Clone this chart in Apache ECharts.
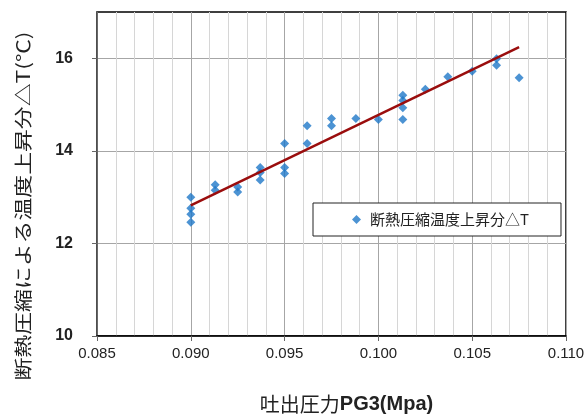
<!DOCTYPE html>
<html>
<head>
<meta charset="utf-8">
<script src="https://cdn.jsdelivr.net/npm/echarts@6/dist/echarts.min.js"></script>
<style>
  html, body { margin: 0; padding: 0; background: #fff; }
  #chart { width: 585px; height: 414px; }
</style>
</head>
<body>
<div id="chart"></div>
<script>
// Discharge pressure PG3 (MPa) and measured temperature rise from adiabatic compression (°C)
const pressure = [
  0.0900, 0.0900, 0.0900, 0.0900,
  0.0913, 0.0913,
  0.0925, 0.0925,
  0.0937, 0.0937, 0.0937,
  0.0950, 0.0950, 0.0950,
  0.0962, 0.0962,
  0.0975, 0.0975,
  0.0988,
  0.1000,
  0.1013, 0.1013, 0.1013, 0.1013,
  0.1025,
  0.1037,
  0.1050,
  0.1063, 0.1063,
  0.1075
];
const deltaT = [
  13.00, 12.76, 12.63, 12.46,
  13.27, 13.15,
  13.22, 13.11,
  13.64, 13.53, 13.37,
  14.16, 13.64, 13.51,
  14.54, 14.16,
  14.70, 14.54,
  14.70,
  14.68,
  15.20, 15.09, 14.93, 14.68,
  15.33,
  15.60,
  15.72,
  15.99, 15.85,
  15.58
];

// Linear trend line end points
const trendX = [0.0900, 0.1075];
const trendY = [12.82, 16.24];

// Axis tick values
const xTicks = [0.085, 0.090, 0.095, 0.100, 0.105, 0.110];
const yTicks = [10, 12, 14, 16];

const seriesName = '断熱圧縮温度上昇分△T';
const xTitle = '吐出圧力';
const xTitleUnit = 'PG3(Mpa)';
const yTitle = '断熱圧縮による温度上昇分△T(℃)';

const scatterData = pressure.map((p, i) => [p, deltaT[i]]);
const trendData = trendX.map((p, i) => [p, trendY[i]]);

const chart = echarts.init(document.getElementById('chart'), null, { renderer: 'canvas' });

chart.setOption({
  animation: false,
  backgroundColor: '#ffffff',
  textStyle: { fontFamily: '"Liberation Sans", "Noto Sans CJK JP", sans-serif' },
  grid: {
    left: 97, right: 19, top: 12, bottom: 78,
    outerBoundsMode: 'none',
    show: true, borderColor: '#000', borderWidth: 1.5, backgroundColor: 'transparent'
  },
  // vertical axis title, stretched along its reading direction
  graphic: [{
    type: 'text',
    x: 23, y: 206,
    rotation: Math.PI / 2,
    scaleX: 1.27,
    style: {
      text: yTitle,
      fontSize: 18,
      fontFamily: '"Noto Sans CJK JP", sans-serif',
      fill: '#222',
      align: 'center',
      verticalAlign: 'middle'
    }
  }],
  legend: {
    data: [seriesName],
    left: 313, top: 203,
    padding: [9, 32, 9, 39],
    backgroundColor: '#fff',
    borderColor: '#222', borderWidth: 1,
    icon: 'diamond',
    itemWidth: 9, itemHeight: 9, itemGap: 0,
    textStyle: { fontSize: 15, color: '#222', fontFamily: '"Noto Sans CJK JP", sans-serif', padding: [0, 0, 0, 4] }
  },
  xAxis: {
    type: 'value',
    min: 0.085, max: 0.110, interval: 0.005,
    name: '{a|' + xTitle + '}{b|' + xTitleUnit + '}',
    nameLocation: 'middle', nameGap: 58,
    nameTextStyle: {
      padding: [0, 0, 0, 30],
      rich: {
        a: { fontSize: 20, color: '#222', fontFamily: '"Noto Sans CJK JP", sans-serif' },
        b: { fontSize: 20, color: '#222', fontWeight: 'bold', fontFamily: '"Liberation Sans", sans-serif' }
      }
    },
    axisLine: { show: true, lineStyle: { color: '#000', width: 1.5 } },
    axisTick: { show: true, length: 5, lineStyle: { color: '#666' } },
    axisLabel: {
      margin: 10, fontSize: 15, color: '#222',
      customValues: xTicks,
      formatter: v => v.toFixed(3)
    },
    splitLine: { show: true, lineStyle: { color: '#a6a6a6', width: 1 } },
    minorTick: { show: false, splitNumber: 5 },
    minorSplitLine: { show: true, lineStyle: { color: '#d6d6d6', width: 1 } }
  },
  yAxis: {
    type: 'value',
    min: 10, max: 17, interval: 2,
    axisLine: { show: true, lineStyle: { color: '#555', width: 1.5 } },
    axisTick: { show: true, length: 5, customValues: yTicks, lineStyle: { color: '#666' } },
    axisLabel: {
      margin: 24, fontSize: 16, fontWeight: 'bold', color: '#222',
      customValues: yTicks
    },
    splitLine: { show: true, lineStyle: { color: '#a6a6a6', width: 1 } }
  },
  series: [
    {
      name: seriesName,
      type: 'scatter',
      data: scatterData,
      symbol: 'diamond',
      symbolSize: 9,
      itemStyle: { color: '#1f78c8' },
      z: 3
    },
    {
      name: 'trend',
      type: 'line',
      data: trendData,
      symbol: 'none',
      lineStyle: { color: '#9a0d0d', width: 2.5 },
      z: 4
    }
  ]
});
</script>
</body>
</html>
